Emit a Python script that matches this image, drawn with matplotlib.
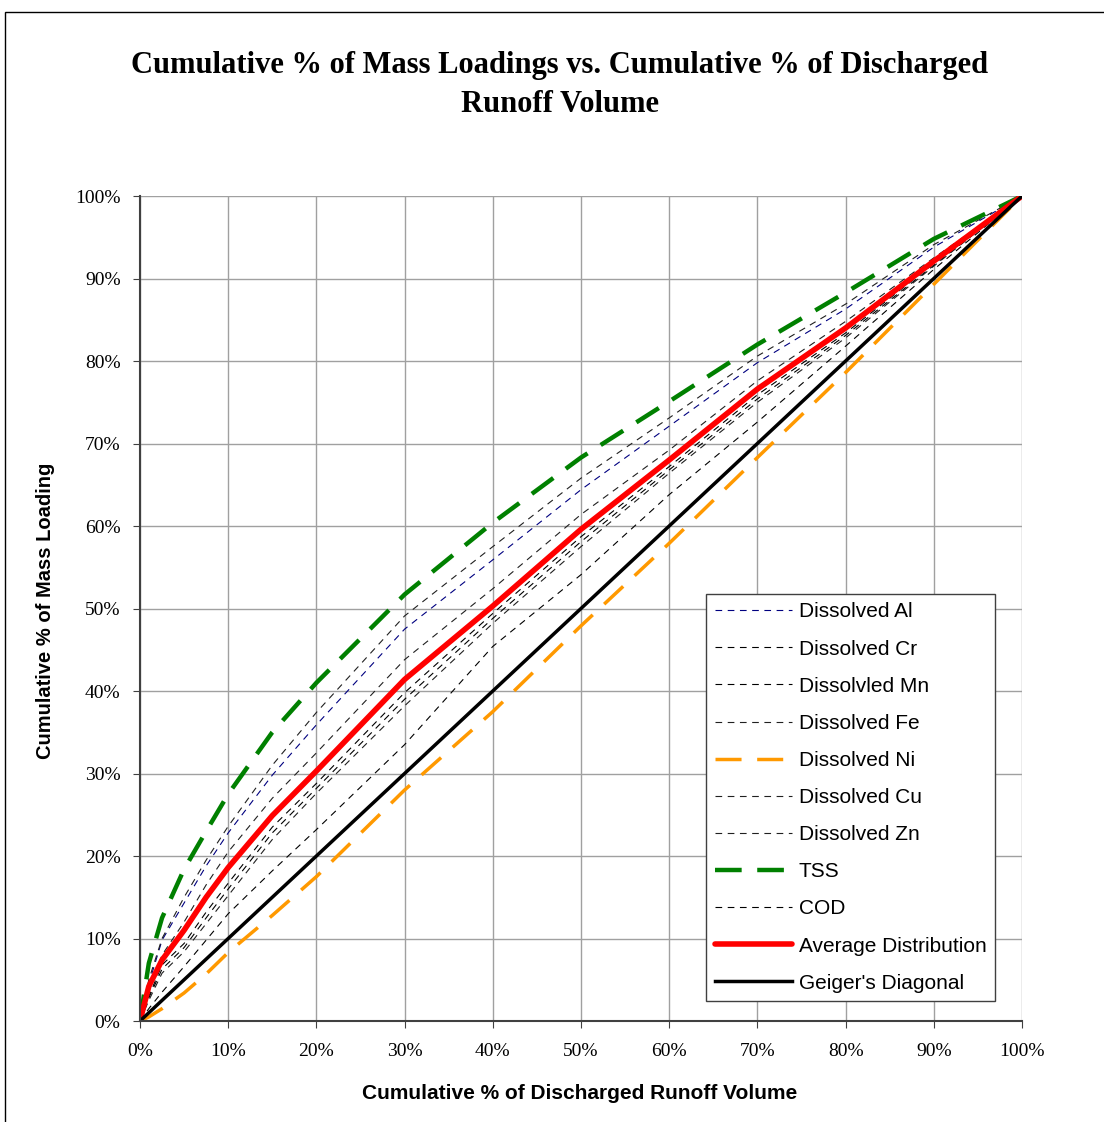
import matplotlib
matplotlib.use('Agg')
from matplotlib import pyplot as plt
from matplotlib.patches import Rectangle
from matplotlib.ticker import MultipleLocator, FuncFormatter

# cumulative % of runoff volume
x = [0, 1, 2.5, 5, 7.5, 10, 15, 20, 30, 40, 50, 60, 70, 80, 90, 100]

# cumulative % of mass loading per parameter
al = [0, 4.5, 9.8, 14.3, 18.8, 22.8, 29.8, 35.9, 47.5, 55.9, 64.4, 72.1, 79.8, 86.3, 93.8, 100]
cr = [0, 3.0, 6.8, 9.4, 13.2, 16.7, 23.5, 28.8, 39.8, 49.4, 58.7, 67.2, 75.9, 83.4, 91.8, 100]
mn = [0, 2.8, 6.3, 8.9, 12.5, 16.0, 22.8, 28.2, 39.0, 48.8, 58.1, 66.8, 75.4, 83.1, 91.6, 100]
fe = [0, 2.5, 5.8, 8.4, 11.8, 15.2, 22.0, 27.6, 38.2, 48.2, 57.5, 66.4, 75.0, 82.8, 91.5, 100]
ni = [0, 0.5, 1.5, 3.4, 5.7, 8.3, 12.8, 17.5, 28.0, 37.5, 47.9, 57.9, 68.3, 78.6, 89.3, 100]
cu = [0, 3.5, 8.0, 12.0, 16.5, 20.5, 27.0, 32.5, 43.8, 52.4, 61.4, 69.2, 77.6, 84.8, 92.5, 100]
zn = [0, 5.0, 10.0, 15.0, 19.5, 23.6, 31.0, 37.4, 49.1, 57.5, 65.8, 73.1, 80.6, 86.9, 94.1, 100]
tss = [0, 7.0, 12.5, 18.4, 23.0, 27.5, 35.0, 41.0, 51.7, 60.4, 68.3, 75.1, 82.0, 88.3, 94.8, 100]
cod = [0, 1.5, 3.5, 6.6, 9.8, 13.0, 18.2, 23.2, 33.5, 45.4, 54.1, 63.8, 72.6, 81.8, 91.1, 100]
avg = [0, 4.2, 7.4, 11.0, 15.0, 18.6, 24.9, 30.3, 41.4, 50.3, 59.6, 68.0, 76.6, 84.0, 92.1, 100]
diag = [0, 1, 2.5, 5, 7.5, 10, 15, 20, 30, 40, 50, 60, 70, 80, 90, 100]

fig = plt.figure(figsize=(11.04, 11.22), dpi=100)
ax = fig.add_axes([0.1268, 0.0900, 0.7989, 0.7353])

thin = dict(lw=0.8, dashes=(6, 5))
ax.plot(x, al, color='#000080', label='Dissolved Al', **thin)
ax.plot(x, cr, color='black', label='Dissolved Cr', **thin)
ax.plot(x, mn, color='black', label='Dissolvled Mn', **thin)
ax.plot(x, fe, color='#202020', label='Dissolved Fe', **thin)
ax.plot(x, ni, color='#ff9900', lw=2.5, dashes=(7.5, 4.5), label='Dissolved Ni')
ax.plot(x, cu, color='#202020', label='Dissolved Cu', **thin)
ax.plot(x, zn, color='#202020', label='Dissolved Zn', **thin)
ax.plot(x, tss, color='#008000', lw=3.2, dashes=(6, 3.5), label='TSS')
ax.plot(x, cod, color='black', label='COD', **thin)
ax.plot(x, avg, color='#ff0000', lw=4, solid_capstyle='round', label='Average Distribution')
ax.plot(x, diag, color='black', lw=2.5, label="Geiger's Diagonal")

ax.set_xlim(0, 100)
ax.set_ylim(0, 100)
ax.xaxis.set_major_locator(MultipleLocator(10))
ax.yaxis.set_major_locator(MultipleLocator(10))
pct = FuncFormatter(lambda v, p: '%d%%' % v)
ax.xaxis.set_major_formatter(pct)
ax.yaxis.set_major_formatter(pct)
ax.grid(True, color='#a0a0a0', lw=1)
ax.set_axisbelow(True)
for s in ['top', 'right']:
    ax.spines[s].set_visible(False)
for s in ['left', 'bottom']:
    ax.spines[s].set_color('#404040')
    ax.spines[s].set_linewidth(1.5)
ax.tick_params(direction='out', length=5, color='#404040', labelsize=14)
ax.tick_params(axis='x', pad=11)
ax.tick_params(axis='y', pad=9)
for lab in ax.get_xticklabels() + ax.get_yticklabels():
    lab.set_fontfamily('Liberation Serif')

fig.text(0.5254, 0.0258, 'Cumulative % of Discharged Runoff Volume', family='Liberation Sans',
         fontsize=15, fontweight='bold', ha='center', va='center')
fig.text(0.0408, 0.4554, 'Cumulative % of Mass Loading', family='Liberation Sans',
         fontsize=14.5, fontweight='bold', ha='center', va='center', rotation=90)

title_font = dict(ha='center', va='center', family='Liberation Serif', fontweight='bold', fontsize=22)
fig.text(0.507, 1 - 65 / 1122, 'Cumulative % of Mass Loadings vs. Cumulative % of Discharged', **title_font)
fig.text(0.507, 1 - 105 / 1122, 'Runoff Volume', **title_font)

leg = ax.legend(loc='lower right', bbox_to_anchor=(0.9694, 0.0242), borderaxespad=0,
                fancybox=False, framealpha=1, edgecolor='#404040',
                prop={'family': 'Liberation Sans', 'size': 15},
                handlelength=3.7, handletextpad=0.35, labelspacing=0.87, borderpad=0.4)
leg.get_frame().set_linewidth(1)

fig.patches.append(Rectangle((0.0045, -0.5), 2, 0.9893 + 0.5, transform=fig.transFigure,
                             fill=False, edgecolor='black', lw=1))

fig.savefig('out.png', dpi=100)
